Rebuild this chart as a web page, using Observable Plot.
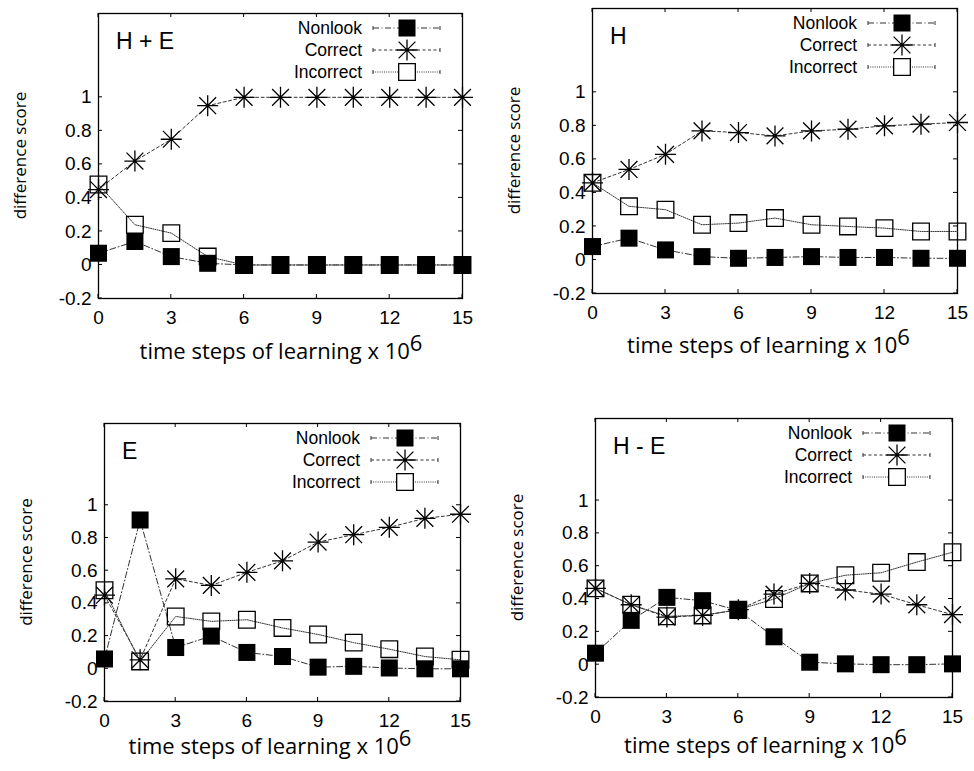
<!DOCTYPE html>
<html>
<head>
<meta charset="utf-8">
<script src="https://cdn.jsdelivr.net/npm/d3@7"></script>
<script src="https://cdn.jsdelivr.net/npm/@observablehq/plot@0.6"></script>
<style>
  body { margin: 0; background: #fff; }
  #fig { position: relative; width: 974px; height: 771px; overflow: hidden; }
  #fig > svg { position: absolute; }
  #fig g[aria-label$="tick label"] text {
    font-family: 'Liberation Sans', Arial, sans-serif;
    font-size: 19px;
  }
</style>
</head>
<body>
<div id="fig"></div>
<script>
// Learning time steps (x 10^6) at which the difference scores were measured
const steps = [0, 1.5, 3, 4.5, 6, 7.5, 9, 10.5, 12, 13.5, 15];
const xTicks = [0, 3, 6, 9, 12, 15];
const yTicks = [-0.2, 0, 0.2, 0.4, 0.6, 0.8, 1];
const seriesNames = ["Nonlook", "Correct", "Incorrect"];
const panelTitles = ["H + E", "H", "E", "H - E"];

// H + E
const heNonlook   = [0.07, 0.14, 0.05, 0.01, 0, 0, 0, 0, 0, 0, 0];
const heCorrect   = [0.45, 0.62, 0.75, 0.95, 1, 1, 1, 1, 1, 1, 1];
const heIncorrect = [0.48, 0.24, 0.19, 0.05, 0, 0, 0, 0, 0, 0, 0];

// H
const hNonlook   = [0.08, 0.13, 0.06, 0.02, 0.01, 0.015, 0.02, 0.015, 0.015, 0.01, 0.01];
const hCorrect   = [0.46, 0.54, 0.63, 0.77, 0.76, 0.74, 0.77, 0.78, 0.80, 0.81, 0.82];
const hIncorrect = [0.46, 0.32, 0.30, 0.21, 0.22, 0.25, 0.21, 0.20, 0.19, 0.17, 0.17];

// E
const eNonlook   = [0.06, 0.91, 0.13, 0.20, 0.10, 0.075, 0.01, 0.015, 0.005, 0, 0];
const eCorrect   = [0.45, 0.055, 0.55, 0.51, 0.59, 0.66, 0.775, 0.82, 0.865, 0.92, 0.945];
const eIncorrect = [0.48, 0.045, 0.32, 0.29, 0.30, 0.25, 0.21, 0.16, 0.12, 0.075, 0.055];

// H - E
const hmeNonlook   = [0.07, 0.27, 0.41, 0.39, 0.33, 0.17, 0.015, 0.005, 0, 0, 0.005];
const hmeCorrect   = [0.465, 0.365, 0.29, 0.30, 0.335, 0.43, 0.495, 0.455, 0.43, 0.365, 0.305];
const hmeIncorrect = [0.465, 0.365, 0.295, 0.30, 0.335, 0.40, 0.495, 0.545, 0.56, 0.625, 0.685];

const panelSeries = [
  [heNonlook, heCorrect, heIncorrect],
  [hNonlook, hCorrect, hIncorrect],
  [eNonlook, eCorrect, eIncorrect],
  [hmeNonlook, hmeCorrect, hmeIncorrect]
];

// Placement of each panel on the page and its plot margins
const layout = [
  {left: 0,   top: 0,   mt: 13, mr: 25, mb: 87, ml: 98,  xTitleGap: 61, xTitleShift: 1},
  {left: 487, top: 0,   mt: 8,  mr: 17, mb: 92, ml: 105, xTitleGap: 60, xTitleShift: -6},
  {left: 0,   top: 386, mt: 37, mr: 27, mb: 70, ml: 104, xTitleGap: 53, xTitleShift: -12},
  {left: 487, top: 386, mt: 32, mr: 22, mb: 74, ml: 108, xTitleGap: 56, xTitleShift: -8}
];
const W = 487, H = 385;
const sans = "'Liberation Sans', Arial, sans-serif";
const humanist = "'Open Sans', 'Noto Sans', sans-serif";

// gnuplot-style "*" point: a plus overlaid with a cross
const asterisk = {
  draw(context, size) {
    const r = Math.sqrt(size / Math.PI);
    const d = r * 0.8;
    context.moveTo(-r, 0); context.lineTo(r, 0);
    context.moveTo(0, -r); context.lineTo(0, r);
    context.moveTo(-d, -d); context.lineTo(d, d);
    context.moveTo(-d, d); context.lineTo(d, -d);
  }
};

const styles = {
  Nonlook:   {dash: "6,2.5,1,2.5", symbol: "square", r: 9.6, fill: "#000", stroke: "none", sw: 0},
  Correct:   {dash: "3,2.5",       symbol: asterisk, r: 10.5, fill: "none", stroke: "#000", sw: 1.3},
  Incorrect: {dash: "1,1.2",       symbol: "square", r: 9.4, fill: "none", stroke: "#000", sw: 1.3}
};
const lineColor = "#333";

const fig = d3.select("#fig");

panelSeries.forEach((series, p) => {
  const L = layout[p];
  const rows = series.map((vals, s) =>
    vals.map((v, i) => ({x: steps[i], y: v, series: seriesNames[s]}))
  );

  const marks = [
    Plot.frame({stroke: "#000", strokeWidth: 1.3}),
    Plot.axisX({ticks: xTicks, tickSize: 0, tickPadding: 12, label: null,
                tickFormat: d => String(d)}),
    Plot.axisY({ticks: yTicks, tickSize: 0, tickPadding: 7, label: null,
                tickFormat: d => String(d)})
  ];
  rows.forEach((data, s) => {
    const st = styles[seriesNames[s]];
    marks.push(Plot.line(data, {x: "x", y: "y", stroke: lineColor, strokeWidth: 1,
                                strokeDasharray: st.dash}));
  });
  // Incorrect boxes first, then the filled Nonlook squares, then the asterisks
  [2, 0, 1].forEach(s => {
    const st = styles[seriesNames[s]];
    marks.push(Plot.dot(rows[s], {x: "x", y: "y", symbol: st.symbol, r: st.r,
                                  fill: st.fill, stroke: st.stroke, strokeWidth: st.sw}));
  });

  const svg = Plot.plot({
    width: W, height: H,
    marginTop: L.mt, marginRight: L.mr, marginBottom: L.mb, marginLeft: L.ml,
    x: {domain: [0, 15]},
    y: {domain: [-0.2, 1.5]},
    style: {fontFamily: sans, fontSize: "19px", background: "transparent", color: "#000"},
    marks
  });

  const sx = svg.scale("x"), sy = svg.scale("y");
  const x0 = sx.apply(0), x1 = sx.apply(15);
  const yB = sy.apply(-0.2), yT = sy.apply(1.5);
  const g = d3.select(svg).append("g").attr("text-anchor", "start");

  // inward ticks on all four sides
  const tk = g.append("g").attr("stroke", "#000").attr("stroke-width", 1);
  xTicks.forEach(t => {
    const x = sx.apply(t);
    tk.append("line").attr("x1", x).attr("x2", x).attr("y1", yB).attr("y2", yB - 4);
    tk.append("line").attr("x1", x).attr("x2", x).attr("y1", yT).attr("y2", yT + 4);
  });
  yTicks.forEach(t => {
    const y = sy.apply(t);
    tk.append("line").attr("x1", x0).attr("x2", x0 + 4).attr("y1", y).attr("y2", y);
    tk.append("line").attr("x1", x1).attr("x2", x1 - 4).attr("y1", y).attr("y2", y);
  });

  // panel title
  g.append("text").attr("x", x0 + 18).attr("y", yT + 36)
    .attr("text-anchor", "start")
    .attr("font-family", sans).attr("font-size", 23)
    .text(panelTitles[p]);

  // legend
  seriesNames.forEach((name, s) => {
    const st = styles[name];
    const cy = yT + 15 + 22 * s;
    g.append("text").attr("x", x1 - 100).attr("y", cy + 6).attr("text-anchor", "end")
      .attr("font-family", sans).attr("font-size", 17.5)
      .text(name);
    const a = x1 - 89, b = x1 - 22;
    g.append("line").attr("x1", a).attr("x2", b).attr("y1", cy).attr("y2", cy)
      .attr("stroke", lineColor).attr("stroke-width", 1).attr("stroke-dasharray", st.dash);
    [a, b].forEach(xe => g.append("line").attr("x1", xe).attr("x2", xe)
      .attr("y1", cy - 2).attr("y2", cy + 2).attr("stroke", lineColor).attr("stroke-width", 1));
    g.append("path")
      .attr("transform", `translate(${x1 - 55},${cy})`)
      .attr("d", d3.symbol(st.symbol === "square" ? d3.symbolSquare : st.symbol, st.r * st.r * Math.PI)())
      .attr("fill", st.fill === "none" ? "#fff" : st.fill)
      .attr("stroke", st.stroke).attr("stroke-width", st.sw);
  });

  // axis titles
  const xt = g.append("text")
    .attr("x", (x0 + x1) / 2 + L.xTitleShift).attr("y", yB + L.xTitleGap)
    .attr("text-anchor", "middle")
    .attr("font-family", humanist).attr("font-size", 22);
  xt.append("tspan").text("time steps of learning x 10");
  xt.append("tspan").attr("dy", -8).text("6");

  g.append("text")
    .attr("transform", `translate(${x0 - 72},${(yT + yB) / 2}) rotate(-90)`)
    .attr("text-anchor", "middle")
    .attr("font-family", humanist).attr("font-size", 17)
    .text("difference score");

  d3.select(svg).style("left", L.left + "px").style("top", L.top + "px");
  fig.node().appendChild(svg);
});
</script>
</body>
</html>
